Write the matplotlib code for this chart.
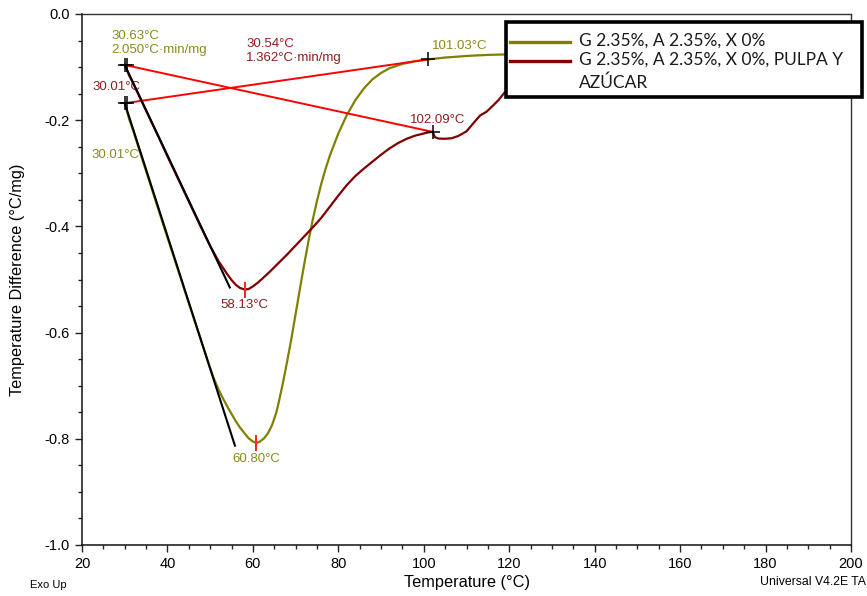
import matplotlib
matplotlib.use("Agg")
import matplotlib.pyplot as plt
from matplotlib.ticker import MultipleLocator, FormatStrFormatter
from matplotlib.patches import Rectangle
from matplotlib.lines import Line2D

plt.rcParams['font.family'] = ['Liberation Sans', 'DejaVu Sans']
plt.rcParams['axes.unicode_minus'] = False

# Sample 1: G 2.35%, A 2.35%, X 0%
temp_a = [30.01, 31, 32, 34, 36, 38, 40, 42, 44, 46, 48, 50, 51, 52, 53, 54, 55,
          56, 57, 58, 59, 60, 60.8, 61.5, 62.5, 63.5, 64.5, 65.5, 66, 67, 68, 69,
          70, 71, 72, 73, 74, 75, 76, 77, 78, 80, 82, 84, 86, 88, 90, 92, 95, 98,
          101.03, 105, 110, 115, 120, 124]
diff_a = [-0.168, -0.197, -0.220, -0.271, -0.321, -0.371, -0.421, -0.470, -0.520,
          -0.569, -0.618, -0.667, -0.689, -0.708, -0.724, -0.739, -0.753, -0.767,
          -0.779, -0.789, -0.799, -0.805, -0.808, -0.806, -0.800, -0.790, -0.774,
          -0.750, -0.733, -0.696, -0.655, -0.612, -0.565, -0.518, -0.472, -0.428,
          -0.388, -0.352, -0.320, -0.292, -0.267, -0.225, -0.190, -0.162, -0.140,
          -0.123, -0.111, -0.102, -0.094, -0.089, -0.0855, -0.082, -0.079, -0.077,
          -0.076, -0.076]

# Sample 2: G 2.35%, A 2.35%, X 0%, pulpa y azúcar
temp_b = [30.01, 31, 32, 34, 36, 38, 40, 42, 44, 46, 48, 50, 52, 53, 54, 55, 56,
          57, 58.13, 59, 60, 61, 62, 64, 66, 68, 70, 72, 74, 76, 78, 80, 82, 84,
          86, 88, 90, 92, 94, 96, 98, 100, 101, 102.09, 102.6, 103.5, 105, 106.5,
          108, 110, 112, 113.2, 114.7, 116, 117.5, 119, 121, 124]
diff_b = [-0.096, -0.115, -0.131, -0.165, -0.199, -0.233, -0.268, -0.302, -0.336,
          -0.370, -0.404, -0.437, -0.466, -0.478, -0.490, -0.501, -0.510, -0.516,
          -0.519, -0.518, -0.513, -0.507, -0.500, -0.485, -0.469, -0.453, -0.436,
          -0.419, -0.402, -0.384, -0.363, -0.342, -0.322, -0.305, -0.291, -0.278,
          -0.265, -0.253, -0.243, -0.235, -0.229, -0.225, -0.223, -0.222, -0.232,
          -0.2346, -0.235, -0.234, -0.230, -0.221, -0.202, -0.191, -0.184, -0.174,
          -0.162, -0.147, -0.128, -0.105]

# Analysis results: onset tangents, integration baselines and peaks
onset_a = (30.01, -0.168)
onset_a2 = (30.63, -0.168)
tangent_end_a = (55.8, -0.813)
baseline_end_a = (101.03, -0.0855)
peak_a = (60.80, -0.808)

onset_b = (30.01, -0.096)
onset_b2 = (30.54, -0.096)
tangent_end_b = (54.6, -0.515)
baseline_end_b = (102.09, -0.222)
peak_b = (58.13, -0.519)

label_a = "G 2.35%, A 2.35%, X 0%"
label_b = "G 2.35%, A 2.35%, X 0%, PULPA Y\nAZÚCAR"

olive = '#808000'
darkred = '#800000'
olive_txt = '#8a8a1e'
red_txt = '#8e1e1e'

fig = plt.figure(figsize=(8.67, 5.96), dpi=100)
W, H = 867, 596
ax = fig.add_axes([82 / W, 1 - 545 / H, (851 - 82) / W, (545 - 14) / H])

ax.plot(temp_a, diff_a, color=olive, lw=1.6, zorder=3)
ax.plot(temp_b, diff_b, color=darkred, lw=1.6, zorder=3)

# integration baselines
ax.plot([onset_a[0], baseline_end_a[0]], [onset_a[1], baseline_end_a[1]],
        color='#ff0000', lw=1.4, zorder=4)
ax.plot([onset_b[0], baseline_end_b[0]], [onset_b[1], baseline_end_b[1]],
        color='#ff0000', lw=1.4, zorder=4)

# onset tangents
ax.plot([onset_a[0], tangent_end_a[0]], [onset_a[1], tangent_end_a[1]],
        color='black', lw=1.5, zorder=5)
ax.plot([onset_b[0], tangent_end_b[0]], [onset_b[1], tangent_end_b[1]],
        color='black', lw=1.5, zorder=5)

# cursor crosses
for pt in (onset_a, onset_a2, onset_b, onset_b2, baseline_end_a, baseline_end_b):
    ax.plot(pt[0], pt[1], marker='+', color='black', ms=10, mew=1.1, zorder=6)

# peak ticks
for pt in (peak_a, peak_b):
    ax.plot(pt[0], pt[1], marker='|', color='#ff2020', ms=11, mew=1.4, zorder=6)

fs = 9.5
ax.text(26.79, -0.0553, "30.63°C\n2.050°C·min/mg", color=olive_txt, fontsize=fs,
        ha='left', va='center', linespacing=1.25)
ax.text(58.39, -0.0702, "30.54°C\n1.362°C·min/mg", color=red_txt, fontsize=fs,
        ha='left', va='center', linespacing=1.25)
ax.text(22.5, -0.138, "30.01°C", color=red_txt, fontsize=fs, ha='left', va='center')
ax.text(22.1, -0.2655, "30.01°C", color=olive_txt, fontsize=fs, ha='left', va='center')
ax.text(101.86, -0.0603, "101.03°C", color=olive_txt, fontsize=fs, ha='left', va='center')
ax.text(96.78, -0.1996, "102.09°C", color=red_txt, fontsize=fs, ha='left', va='center')
ax.text(peak_b[0], -0.548, "58.13°C", color=red_txt, fontsize=fs, ha='center', va='center')
ax.text(peak_a[0], -0.8386, "60.80°C", color=olive_txt, fontsize=fs, ha='center', va='center')

ax.set_xlim(20, 200)
ax.set_ylim(-1.0, 0.0)
ax.xaxis.set_major_locator(MultipleLocator(20))
ax.xaxis.set_minor_locator(MultipleLocator(5))
ax.yaxis.set_major_locator(MultipleLocator(0.2))
ax.yaxis.set_minor_locator(MultipleLocator(0.05))
ax.yaxis.set_major_formatter(FormatStrFormatter('%.1f'))
ax.tick_params(which='major', direction='out', length=5, width=1, labelsize=10.5,
               color='#222222', labelcolor='black')
ax.tick_params(which='minor', direction='out', length=3, width=1, color='#222222')
ax.tick_params(axis='x', which='major', pad=4)
ax.tick_params(axis='y', which='major', pad=4)
for side in ('left', 'bottom'):
    ax.spines[side].set_color('#111111')
    ax.spines[side].set_linewidth(1.1)
for side in ('top', 'right'):
    ax.spines[side].set_color('#333333')
    ax.spines[side].set_linewidth(1.0)

ax.set_xlabel("Temperature (°C)", fontsize=11.8)
ax.xaxis.set_label_coords(0.5, -(583 - 545) / 531)
ax.xaxis.label.set_va('center')
ax.set_ylabel("Temperature Difference (°C/mg)", fontsize=11.8)
ax.yaxis.set_label_coords(-(82 - 18) / 769, 0.5)
ax.yaxis.label.set_va('center')

fig.text(30 / W, 1 - 585 / H, "Exo Up", fontsize=8, ha='left', va='center')
fig.text(866 / W, 1 - 582 / H, "Universal V4.2E TA", fontsize=8.8, ha='right', va='center')

# legend box
box = Rectangle((506 / W, 1 - 97 / H), (862 - 506) / W, (97 - 22) / H,
                transform=fig.transFigure, facecolor='white', edgecolor='black',
                linewidth=2.6, zorder=10)
fig.add_artist(box)
leg_font = ['Lato', 'DejaVu Sans']
for yc, col, lab in ((41.7, olive, label_a), (61.0, darkred, label_b)):
    fig.add_artist(Line2D([510 / W, 570 / W], [1 - yc / H, 1 - yc / H],
                          transform=fig.transFigure, color=col, lw=2.4, zorder=11))
    fig.text(579 / W, 1 - (yc - 9) / H, lab, fontsize=12.5, family=leg_font,
             color='#1a1a1a', ha='left', va='top', linespacing=1.5, zorder=12)

fig.savefig("out.png", dpi=100)
